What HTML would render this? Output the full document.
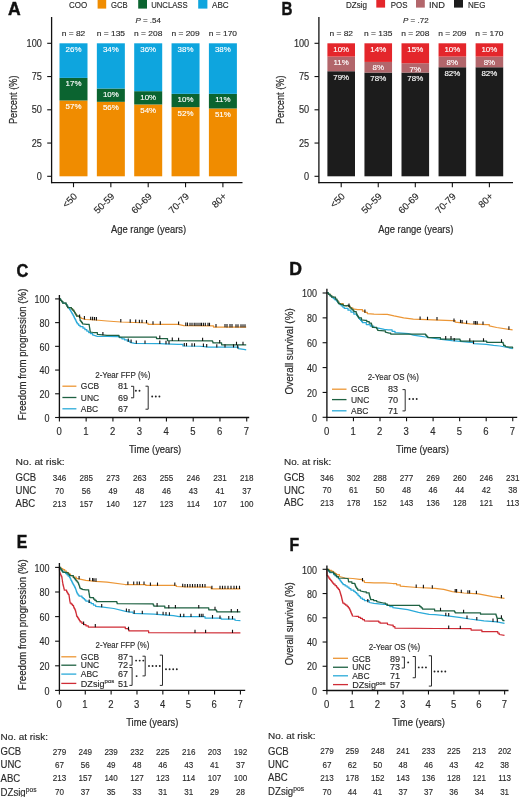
<!DOCTYPE html><html><head><meta charset="utf-8"><style>html,body{margin:0;padding:0;background:#fff;}svg{display:block;filter:blur(0.45px);}text{stroke:#2a2a2a;stroke-width:0.14px;}text[fill="#ffffff"]{stroke:#ffffff;}</style></head><body><svg width="520" height="797" viewBox="0 0 520 797" font-family='"Liberation Sans", sans-serif' fill="#2a2a2a">
<rect width="520" height="797" fill="#fff"/>
<rect x="59.50" y="100.49" width="28.00" height="75.81" fill="#F08C00"/>
<rect x="59.50" y="77.88" width="28.00" height="22.61" fill="#0B6430"/>
<rect x="59.50" y="43.30" width="28.00" height="34.58" fill="#0EA5DE"/>
<text x="73.50" y="108.89" font-size="7.7" text-anchor="middle" fill="#ffffff" textLength="15.87" lengthAdjust="spacingAndGlyphs">57%</text>
<text x="73.50" y="86.28" font-size="7.7" text-anchor="middle" fill="#ffffff" textLength="15.87" lengthAdjust="spacingAndGlyphs">17%</text>
<text x="73.50" y="51.70" font-size="7.7" text-anchor="middle" fill="#ffffff" textLength="15.87" lengthAdjust="spacingAndGlyphs">26%</text>
<text x="73.50" y="36.40" font-size="8.0" text-anchor="middle" textLength="23.59" lengthAdjust="spacingAndGlyphs">n = 82</text>
<line x1="73.50" y1="182.60" x2="73.50" y2="187.20" stroke="#111" stroke-width="1.1"/>
<text x="0" y="0" font-size="9.6" text-anchor="end" transform="translate(77.80,196.90) rotate(-45)">&lt;50</text>
<rect x="96.85" y="101.82" width="28.00" height="74.48" fill="#F08C00"/>
<rect x="96.85" y="88.52" width="28.00" height="13.30" fill="#0B6430"/>
<rect x="96.85" y="43.30" width="28.00" height="45.22" fill="#0EA5DE"/>
<text x="110.85" y="110.22" font-size="7.7" text-anchor="middle" fill="#ffffff" textLength="15.87" lengthAdjust="spacingAndGlyphs">56%</text>
<text x="110.85" y="96.92" font-size="7.7" text-anchor="middle" fill="#ffffff" textLength="15.87" lengthAdjust="spacingAndGlyphs">10%</text>
<text x="110.85" y="51.70" font-size="7.7" text-anchor="middle" fill="#ffffff" textLength="15.87" lengthAdjust="spacingAndGlyphs">34%</text>
<text x="110.85" y="36.40" font-size="8.0" text-anchor="middle" textLength="28.26" lengthAdjust="spacingAndGlyphs">n = 135</text>
<line x1="110.85" y1="182.60" x2="110.85" y2="187.20" stroke="#111" stroke-width="1.1"/>
<text x="0" y="0" font-size="9.6" text-anchor="end" transform="translate(115.15,196.90) rotate(-45)">50-59</text>
<rect x="134.20" y="104.48" width="28.00" height="71.82" fill="#F08C00"/>
<rect x="134.20" y="91.18" width="28.00" height="13.30" fill="#0B6430"/>
<rect x="134.20" y="43.30" width="28.00" height="47.88" fill="#0EA5DE"/>
<text x="148.20" y="112.88" font-size="7.7" text-anchor="middle" fill="#ffffff" textLength="15.87" lengthAdjust="spacingAndGlyphs">54%</text>
<text x="148.20" y="99.58" font-size="7.7" text-anchor="middle" fill="#ffffff" textLength="15.87" lengthAdjust="spacingAndGlyphs">10%</text>
<text x="148.20" y="51.70" font-size="7.7" text-anchor="middle" fill="#ffffff" textLength="15.87" lengthAdjust="spacingAndGlyphs">36%</text>
<text x="148.20" y="36.40" font-size="8.0" text-anchor="middle" textLength="28.26" lengthAdjust="spacingAndGlyphs">n = 208</text>
<line x1="148.20" y1="182.60" x2="148.20" y2="187.20" stroke="#111" stroke-width="1.1"/>
<text x="0" y="0" font-size="9.6" text-anchor="end" transform="translate(152.50,196.90) rotate(-45)">60-69</text>
<rect x="171.55" y="107.14" width="28.00" height="69.16" fill="#F08C00"/>
<rect x="171.55" y="93.84" width="28.00" height="13.30" fill="#0B6430"/>
<rect x="171.55" y="43.30" width="28.00" height="50.54" fill="#0EA5DE"/>
<text x="185.55" y="115.54" font-size="7.7" text-anchor="middle" fill="#ffffff" textLength="15.87" lengthAdjust="spacingAndGlyphs">52%</text>
<text x="185.55" y="102.24" font-size="7.7" text-anchor="middle" fill="#ffffff" textLength="15.87" lengthAdjust="spacingAndGlyphs">10%</text>
<text x="185.55" y="51.70" font-size="7.7" text-anchor="middle" fill="#ffffff" textLength="15.87" lengthAdjust="spacingAndGlyphs">38%</text>
<text x="185.55" y="36.40" font-size="8.0" text-anchor="middle" textLength="28.26" lengthAdjust="spacingAndGlyphs">n = 209</text>
<line x1="185.55" y1="182.60" x2="185.55" y2="187.20" stroke="#111" stroke-width="1.1"/>
<text x="0" y="0" font-size="9.6" text-anchor="end" transform="translate(189.85,196.90) rotate(-45)">70-79</text>
<rect x="208.90" y="108.47" width="28.00" height="67.83" fill="#F08C00"/>
<rect x="208.90" y="93.84" width="28.00" height="14.63" fill="#0B6430"/>
<rect x="208.90" y="43.30" width="28.00" height="50.54" fill="#0EA5DE"/>
<text x="222.90" y="116.87" font-size="7.7" text-anchor="middle" fill="#ffffff" textLength="15.87" lengthAdjust="spacingAndGlyphs">51%</text>
<text x="222.90" y="102.24" font-size="7.7" text-anchor="middle" fill="#ffffff" textLength="15.28" lengthAdjust="spacingAndGlyphs">11%</text>
<text x="222.90" y="51.70" font-size="7.7" text-anchor="middle" fill="#ffffff" textLength="15.87" lengthAdjust="spacingAndGlyphs">38%</text>
<text x="222.90" y="36.40" font-size="8.0" text-anchor="middle" textLength="28.26" lengthAdjust="spacingAndGlyphs">n = 170</text>
<line x1="222.90" y1="182.60" x2="222.90" y2="187.20" stroke="#111" stroke-width="1.1"/>
<text x="0" y="0" font-size="9.6" text-anchor="end" transform="translate(227.20,196.90) rotate(-45)">80+</text>
<line x1="51.60" y1="17.00" x2="51.60" y2="183.20" stroke="#111" stroke-width="1.3"/>
<line x1="51.00" y1="182.60" x2="242.50" y2="182.60" stroke="#111" stroke-width="1.3"/>
<line x1="47.20" y1="176.30" x2="51.60" y2="176.30" stroke="#111" stroke-width="1.1"/>
<text x="41.90" y="179.90" font-size="10.2" text-anchor="end" textLength="5.10" lengthAdjust="spacingAndGlyphs">0</text>
<line x1="47.20" y1="143.05" x2="51.60" y2="143.05" stroke="#111" stroke-width="1.1"/>
<text x="41.90" y="146.65" font-size="10.2" text-anchor="end" textLength="10.21" lengthAdjust="spacingAndGlyphs">25</text>
<line x1="47.20" y1="109.80" x2="51.60" y2="109.80" stroke="#111" stroke-width="1.1"/>
<text x="41.90" y="113.40" font-size="10.2" text-anchor="end" textLength="10.21" lengthAdjust="spacingAndGlyphs">50</text>
<line x1="47.20" y1="76.55" x2="51.60" y2="76.55" stroke="#111" stroke-width="1.1"/>
<text x="41.90" y="80.15" font-size="10.2" text-anchor="end" textLength="10.21" lengthAdjust="spacingAndGlyphs">75</text>
<line x1="47.20" y1="43.30" x2="51.60" y2="43.30" stroke="#111" stroke-width="1.1"/>
<text x="41.90" y="46.90" font-size="10.2" text-anchor="end" textLength="15.31" lengthAdjust="spacingAndGlyphs">100</text>
<text x="0" y="0" font-size="11.2" text-anchor="middle" transform="translate(17.40,99.80) rotate(-90)" textLength="48.5" lengthAdjust="spacingAndGlyphs" style="stroke-width:0.22px">Percent (%)</text>
<text x="148.60" y="233.20" font-size="11.4" text-anchor="middle" textLength="75.00" lengthAdjust="spacingAndGlyphs" style="stroke-width:0.22px">Age range (years)</text>
<rect x="327.40" y="71.23" width="27.60" height="105.07" fill="#1C1C1C"/>
<rect x="327.40" y="56.60" width="27.60" height="14.63" fill="#B2666B"/>
<rect x="327.40" y="43.30" width="27.60" height="13.30" fill="#E4262B"/>
<text x="341.20" y="79.63" font-size="7.7" text-anchor="middle" fill="#ffffff" textLength="15.87" lengthAdjust="spacingAndGlyphs">79%</text>
<text x="341.20" y="65.00" font-size="7.7" text-anchor="middle" fill="#ffffff" textLength="15.28" lengthAdjust="spacingAndGlyphs">11%</text>
<text x="341.20" y="51.70" font-size="7.7" text-anchor="middle" fill="#ffffff" textLength="15.87" lengthAdjust="spacingAndGlyphs">10%</text>
<text x="341.20" y="36.40" font-size="8.0" text-anchor="middle" textLength="23.59" lengthAdjust="spacingAndGlyphs">n = 82</text>
<line x1="341.20" y1="182.60" x2="341.20" y2="187.20" stroke="#111" stroke-width="1.1"/>
<text x="0" y="0" font-size="9.6" text-anchor="end" transform="translate(345.50,196.90) rotate(-45)">&lt;50</text>
<rect x="364.45" y="72.56" width="27.60" height="103.74" fill="#1C1C1C"/>
<rect x="364.45" y="61.92" width="27.60" height="10.64" fill="#B2666B"/>
<rect x="364.45" y="43.30" width="27.60" height="18.62" fill="#E4262B"/>
<text x="378.25" y="80.96" font-size="7.7" text-anchor="middle" fill="#ffffff" textLength="15.87" lengthAdjust="spacingAndGlyphs">78%</text>
<text x="378.25" y="70.32" font-size="7.7" text-anchor="middle" fill="#ffffff" textLength="11.46" lengthAdjust="spacingAndGlyphs">8%</text>
<text x="378.25" y="51.70" font-size="7.7" text-anchor="middle" fill="#ffffff" textLength="15.87" lengthAdjust="spacingAndGlyphs">14%</text>
<text x="378.25" y="36.40" font-size="8.0" text-anchor="middle" textLength="28.26" lengthAdjust="spacingAndGlyphs">n = 135</text>
<line x1="378.25" y1="182.60" x2="378.25" y2="187.20" stroke="#111" stroke-width="1.1"/>
<text x="0" y="0" font-size="9.6" text-anchor="end" transform="translate(382.55,196.90) rotate(-45)">50-59</text>
<rect x="401.50" y="72.56" width="27.60" height="103.74" fill="#1C1C1C"/>
<rect x="401.50" y="63.25" width="27.60" height="9.31" fill="#B2666B"/>
<rect x="401.50" y="43.30" width="27.60" height="19.95" fill="#E4262B"/>
<text x="415.30" y="80.96" font-size="7.7" text-anchor="middle" fill="#ffffff" textLength="15.87" lengthAdjust="spacingAndGlyphs">78%</text>
<text x="415.30" y="71.65" font-size="7.7" text-anchor="middle" fill="#ffffff" textLength="11.46" lengthAdjust="spacingAndGlyphs">7%</text>
<text x="415.30" y="51.70" font-size="7.7" text-anchor="middle" fill="#ffffff" textLength="15.87" lengthAdjust="spacingAndGlyphs">15%</text>
<text x="415.30" y="36.40" font-size="8.0" text-anchor="middle" textLength="28.26" lengthAdjust="spacingAndGlyphs">n = 208</text>
<line x1="415.30" y1="182.60" x2="415.30" y2="187.20" stroke="#111" stroke-width="1.1"/>
<text x="0" y="0" font-size="9.6" text-anchor="end" transform="translate(419.60,196.90) rotate(-45)">60-69</text>
<rect x="438.55" y="67.24" width="27.60" height="109.06" fill="#1C1C1C"/>
<rect x="438.55" y="56.60" width="27.60" height="10.64" fill="#B2666B"/>
<rect x="438.55" y="43.30" width="27.60" height="13.30" fill="#E4262B"/>
<text x="452.35" y="75.64" font-size="7.7" text-anchor="middle" fill="#ffffff" textLength="15.87" lengthAdjust="spacingAndGlyphs">82%</text>
<text x="452.35" y="65.00" font-size="7.7" text-anchor="middle" fill="#ffffff" textLength="11.46" lengthAdjust="spacingAndGlyphs">8%</text>
<text x="452.35" y="51.70" font-size="7.7" text-anchor="middle" fill="#ffffff" textLength="15.87" lengthAdjust="spacingAndGlyphs">10%</text>
<text x="452.35" y="36.40" font-size="8.0" text-anchor="middle" textLength="28.26" lengthAdjust="spacingAndGlyphs">n = 209</text>
<line x1="452.35" y1="182.60" x2="452.35" y2="187.20" stroke="#111" stroke-width="1.1"/>
<text x="0" y="0" font-size="9.6" text-anchor="end" transform="translate(456.65,196.90) rotate(-45)">70-79</text>
<rect x="475.60" y="67.24" width="27.60" height="109.06" fill="#1C1C1C"/>
<rect x="475.60" y="56.60" width="27.60" height="10.64" fill="#B2666B"/>
<rect x="475.60" y="43.30" width="27.60" height="13.30" fill="#E4262B"/>
<text x="489.40" y="75.64" font-size="7.7" text-anchor="middle" fill="#ffffff" textLength="15.87" lengthAdjust="spacingAndGlyphs">82%</text>
<text x="489.40" y="65.00" font-size="7.7" text-anchor="middle" fill="#ffffff" textLength="11.46" lengthAdjust="spacingAndGlyphs">8%</text>
<text x="489.40" y="51.70" font-size="7.7" text-anchor="middle" fill="#ffffff" textLength="15.87" lengthAdjust="spacingAndGlyphs">10%</text>
<text x="489.40" y="36.40" font-size="8.0" text-anchor="middle" textLength="28.26" lengthAdjust="spacingAndGlyphs">n = 170</text>
<line x1="489.40" y1="182.60" x2="489.40" y2="187.20" stroke="#111" stroke-width="1.1"/>
<text x="0" y="0" font-size="9.6" text-anchor="end" transform="translate(493.70,196.90) rotate(-45)">80+</text>
<line x1="318.90" y1="17.00" x2="318.90" y2="183.20" stroke="#111" stroke-width="1.3"/>
<line x1="318.30" y1="182.60" x2="513.00" y2="182.60" stroke="#111" stroke-width="1.3"/>
<line x1="314.50" y1="176.30" x2="318.90" y2="176.30" stroke="#111" stroke-width="1.1"/>
<text x="309.20" y="179.90" font-size="10.2" text-anchor="end" textLength="5.10" lengthAdjust="spacingAndGlyphs">0</text>
<line x1="314.50" y1="143.05" x2="318.90" y2="143.05" stroke="#111" stroke-width="1.1"/>
<text x="309.20" y="146.65" font-size="10.2" text-anchor="end" textLength="10.21" lengthAdjust="spacingAndGlyphs">25</text>
<line x1="314.50" y1="109.80" x2="318.90" y2="109.80" stroke="#111" stroke-width="1.1"/>
<text x="309.20" y="113.40" font-size="10.2" text-anchor="end" textLength="10.21" lengthAdjust="spacingAndGlyphs">50</text>
<line x1="314.50" y1="76.55" x2="318.90" y2="76.55" stroke="#111" stroke-width="1.1"/>
<text x="309.20" y="80.15" font-size="10.2" text-anchor="end" textLength="10.21" lengthAdjust="spacingAndGlyphs">75</text>
<line x1="314.50" y1="43.30" x2="318.90" y2="43.30" stroke="#111" stroke-width="1.1"/>
<text x="309.20" y="46.90" font-size="10.2" text-anchor="end" textLength="15.31" lengthAdjust="spacingAndGlyphs">100</text>
<text x="0" y="0" font-size="11.2" text-anchor="middle" transform="translate(284.00,99.80) rotate(-90)" textLength="48.5" lengthAdjust="spacingAndGlyphs" style="stroke-width:0.22px">Percent (%)</text>
<text x="415.80" y="233.20" font-size="11.4" text-anchor="middle" textLength="75.00" lengthAdjust="spacingAndGlyphs" style="stroke-width:0.22px">Age range (years)</text>
<text x="0" y="0" font-size="17.6" fill="#111" font-weight="bold" style="stroke:#111;stroke-width:0.45px" transform="translate(8,15) scale(1.0,1)">A</text>
<text x="0" y="0" font-size="17.6" fill="#111" font-weight="bold" style="stroke:#111;stroke-width:0.45px" transform="translate(281.4,14.9) scale(0.86,1)">B</text>
<text x="0" y="0" font-size="17.6" fill="#111" font-weight="bold" style="stroke:#111;stroke-width:0.45px" transform="translate(16.6,276.6) scale(0.93,1)">C</text>
<text x="0" y="0" font-size="17.6" fill="#111" font-weight="bold" style="stroke:#111;stroke-width:0.45px" transform="translate(289.2,275.0) scale(1.0,1)">D</text>
<text x="0" y="0" font-size="17.6" fill="#111" font-weight="bold" style="stroke:#111;stroke-width:0.45px" transform="translate(16.8,547.9) scale(0.9,1)">E</text>
<text x="0" y="0" font-size="17.6" fill="#111" font-weight="bold" style="stroke:#111;stroke-width:0.45px" transform="translate(289.6,551.3) scale(0.9,1)">F</text>
<text x="69.00" y="8.20" font-size="8.6" textLength="18.20" lengthAdjust="spacingAndGlyphs">COO</text>
<rect x="97.60" y="0.00" width="8.60" height="8.60" fill="#F08C00"/>
<text x="111.00" y="8.20" font-size="8.6" textLength="16.60" lengthAdjust="spacingAndGlyphs">GCB</text>
<rect x="138.20" y="0.00" width="8.80" height="8.60" fill="#0B6430"/>
<text x="151.20" y="8.20" font-size="8.6" textLength="36.40" lengthAdjust="spacingAndGlyphs">UNCLASS</text>
<rect x="198.20" y="0.00" width="9.20" height="8.60" fill="#0EA5DE"/>
<text x="212.00" y="8.20" font-size="8.6" textLength="16.60" lengthAdjust="spacingAndGlyphs">ABC</text>
<text x="135.4" y="22.7" font-size="8"><tspan font-style="italic">P</tspan> = .54</text>
<text x="346.00" y="7.60" font-size="8.6" textLength="21.00" lengthAdjust="spacingAndGlyphs">DZsig</text>
<rect x="376.30" y="0.00" width="8.80" height="7.60" fill="#E4262B"/>
<text x="390.80" y="7.60" font-size="8.6" textLength="16.70" lengthAdjust="spacingAndGlyphs">POS</text>
<rect x="416.00" y="0.00" width="8.80" height="7.60" fill="#B2666B"/>
<text x="429.00" y="7.60" font-size="8.6" textLength="16.00" lengthAdjust="spacingAndGlyphs">IND</text>
<rect x="454.00" y="0.00" width="9.00" height="7.60" fill="#1C1C1C"/>
<text x="468.00" y="7.60" font-size="8.6" textLength="17.40" lengthAdjust="spacingAndGlyphs">NEG</text>
<text x="403" y="23" font-size="8"><tspan font-style="italic">P</tspan> = .72</text>
<path d="M59.40,298.80 L60.53,298.80 L60.53,300.27 L61.67,300.27 L61.67,301.73 L62.80,301.73 L62.80,303.20 L66.10,303.20 L66.10,304.60 L66.85,304.60 L66.85,306.05 L67.60,306.05 L67.60,307.50 L71.40,307.50 L71.40,308.90 L72.60,308.90 L72.60,310.10 L73.80,310.10 L73.80,311.30 L74.53,311.30 L74.53,312.52 L75.25,312.52 L75.25,313.75 L75.97,313.75 L75.97,314.98 L76.70,314.98 L76.70,316.20 L79.40,316.20 L79.40,317.40 L81.00,317.40 L81.00,318.10 L85.80,319.50 L95.50,320.00 L107.00,321.00 L120.80,322.00 L147.30,323.00 L148.00,323.00 L148.00,324.30 L178.10,324.40 L183.80,325.60 L213.50,325.80 L213.50,327.00 L246.20,327.20" fill="none" stroke="#EC9635" stroke-width="1.25" stroke-linejoin="round"/>
<path d="M59.40,298.80 L60.53,298.80 L60.53,300.27 L61.67,300.27 L61.67,301.73 L62.80,301.73 L62.80,303.20 L66.10,303.20 L66.10,304.60 L66.95,304.60 L66.95,305.80 L67.80,305.80 L67.80,307.00 L68.65,307.00 L68.65,308.20 L69.50,308.20 L69.50,309.40 L70.22,309.40 L70.22,310.60 L70.95,310.60 L70.95,311.80 L71.68,311.80 L71.68,313.00 L72.40,313.00 L72.40,314.20 L73.09,314.20 L73.09,315.57 L73.77,315.57 L73.77,316.94 L74.46,316.94 L74.46,318.31 L75.14,318.31 L75.14,319.69 L75.83,319.69 L75.83,321.06 L76.51,321.06 L76.51,322.43 L77.20,322.43 L77.20,323.80 L78.65,323.80 L78.65,325.25 L80.10,325.25 L80.10,326.70 L83.00,326.70 L83.00,328.20 L84.90,328.20 L84.90,329.63 L86.80,329.63 L86.80,331.07 L88.70,331.07 L88.70,332.50 L90.65,332.50 L90.65,333.70 L92.60,333.70 L92.60,334.90 L97.40,336.30 L107.00,336.50 L117.30,336.50 L119.60,336.50 L119.60,337.65 L121.90,337.65 L121.90,338.80 L124.60,338.80 L124.60,339.97 L127.30,339.97 L127.30,341.13 L130.00,341.13 L130.00,342.30 L134.60,343.40 L160.00,343.60 L164.60,343.80 L178.00,344.30 L182.90,344.30 L182.90,346.00 L200.00,346.25 L208.70,347.20 L236.50,347.20 L238.50,347.20 L238.50,348.70 L245.20,349.60 L246.20,349.80" fill="none" stroke="#2AAAD9" stroke-width="1.25" stroke-linejoin="round"/>
<path d="M59.40,298.80 L60.53,298.80 L60.53,300.27 L61.67,300.27 L61.67,301.73 L62.80,301.73 L62.80,303.20 L66.10,303.20 L66.10,304.60 L66.85,304.60 L66.85,306.05 L67.60,306.05 L67.60,307.50 L71.40,307.50 L71.40,308.90 L72.60,308.90 L72.60,310.10 L73.80,310.10 L73.80,311.30 L74.53,311.30 L74.53,312.52 L75.25,312.52 L75.25,313.75 L75.97,313.75 L75.97,314.98 L76.70,314.98 L76.70,316.20 L79.60,316.20 L79.60,317.60 L79.85,317.60 L79.85,319.05 L80.10,319.05 L80.10,320.50 L80.90,320.50 L80.90,321.60 L81.70,321.60 L81.70,322.70 L82.50,322.70 L82.50,323.80 L86.80,324.30 L89.20,324.30 L89.20,325.80 L89.40,325.80 L89.40,327.04 L89.60,327.04 L89.60,328.28 L89.80,328.28 L89.80,329.52 L90.00,329.52 L90.00,330.76 L90.20,330.76 L90.20,332.00 L93.50,332.50 L97.40,332.50 L97.40,334.40 L107.00,335.30 L117.30,335.30 L119.00,335.30 L119.00,337.10 L156.50,337.10 L156.50,338.60 L167.50,338.60 L167.50,340.60 L212.00,340.80 L212.50,340.80 L212.50,341.85 L213.00,341.85 L213.00,342.90 L219.70,342.90 L221.60,342.90 L221.60,344.80 L246.20,344.80" fill="none" stroke="#1E6142" stroke-width="1.25" stroke-linejoin="round"/>
<path d="M79.60,314.49V317.79M84.40,316.09V319.39M90.70,316.75V320.05M92.60,316.85V320.15M94.50,316.95V320.25M96.40,317.08V320.38M120.80,319.00V322.30M130.20,319.35V322.65M135.70,319.56V322.86M139.40,319.70V323.00M142.00,319.80V323.10M146.50,319.97V323.27M153.00,321.32V324.62M160.30,321.34V324.64M178.60,321.51V324.81M185.80,322.61V325.91M187.50,322.62V325.92M190.00,322.64V325.94M192.00,322.66V325.96M194.20,322.67V325.97M196.00,322.68V325.98M198.00,322.70V326.00M200.00,322.71V326.01M201.50,322.72V326.02M203.40,322.73V326.03M205.30,322.74V326.04M208.00,322.76V326.06M209.50,322.77V326.07M216.00,324.02V327.32M225.00,324.07V327.37M227.00,324.08V327.38M230.00,324.10V327.40M232.00,324.11V327.41M236.00,324.14V327.44M238.00,324.15V327.45M241.00,324.17V327.47M243.00,324.18V327.48M245.00,324.19V327.49" stroke="#111" stroke-width="1.1" fill="none"/>
<path d="M128.30,338.57V341.87M131.10,339.56V342.86M136.30,340.41V343.71M145.00,340.48V343.78M159.80,340.60V343.90M166.00,340.85V344.15M169.00,340.96V344.26M184.30,343.02V346.32M186.50,343.05V346.35M192.00,343.13V346.43M194.50,343.17V346.47M203.40,343.62V346.92M206.70,343.98V347.28M216.80,344.20V347.50M225.00,344.20V347.50M233.50,344.20V347.50M237.70,345.10V348.40" stroke="#111" stroke-width="1.1" fill="none"/>
<path d="M102.90,331.92V335.22M159.80,335.60V338.90M172.30,337.62V340.92M178.60,337.65V340.95M202.60,337.76V341.06M219.70,339.90V343.20M236.50,341.80V345.10M243.00,341.80V345.10" stroke="#111" stroke-width="1.1" fill="none"/>
<line x1="59.40" y1="295.00" x2="59.40" y2="418.10" stroke="#111" stroke-width="1.35"/>
<line x1="58.80" y1="417.50" x2="249.20" y2="417.50" stroke="#111" stroke-width="1.35"/>
<line x1="55.10" y1="417.50" x2="59.40" y2="417.50" stroke="#111" stroke-width="1.1"/>
<text x="49.40" y="421.70" font-size="10.2" text-anchor="end" textLength="4.99" lengthAdjust="spacingAndGlyphs">0</text>
<line x1="55.10" y1="393.78" x2="59.40" y2="393.78" stroke="#111" stroke-width="1.1"/>
<text x="49.40" y="397.98" font-size="10.2" text-anchor="end" textLength="9.98" lengthAdjust="spacingAndGlyphs">20</text>
<line x1="55.10" y1="370.06" x2="59.40" y2="370.06" stroke="#111" stroke-width="1.1"/>
<text x="49.40" y="374.26" font-size="10.2" text-anchor="end" textLength="9.98" lengthAdjust="spacingAndGlyphs">40</text>
<line x1="55.10" y1="346.34" x2="59.40" y2="346.34" stroke="#111" stroke-width="1.1"/>
<text x="49.40" y="350.54" font-size="10.2" text-anchor="end" textLength="9.98" lengthAdjust="spacingAndGlyphs">60</text>
<line x1="55.10" y1="322.62" x2="59.40" y2="322.62" stroke="#111" stroke-width="1.1"/>
<text x="49.40" y="326.82" font-size="10.2" text-anchor="end" textLength="9.98" lengthAdjust="spacingAndGlyphs">80</text>
<line x1="55.10" y1="298.90" x2="59.40" y2="298.90" stroke="#111" stroke-width="1.1"/>
<text x="49.40" y="303.10" font-size="10.2" text-anchor="end" textLength="14.97" lengthAdjust="spacingAndGlyphs">100</text>
<line x1="59.40" y1="417.50" x2="59.40" y2="421.50" stroke="#111" stroke-width="1.1"/>
<text x="59.10" y="434.70" font-size="10.0" text-anchor="middle" textLength="5.28" lengthAdjust="spacingAndGlyphs">0</text>
<line x1="86.16" y1="417.50" x2="86.16" y2="421.50" stroke="#111" stroke-width="1.1"/>
<text x="85.86" y="434.70" font-size="10.0" text-anchor="middle" textLength="5.28" lengthAdjust="spacingAndGlyphs">1</text>
<line x1="112.92" y1="417.50" x2="112.92" y2="421.50" stroke="#111" stroke-width="1.1"/>
<text x="112.62" y="434.70" font-size="10.0" text-anchor="middle" textLength="5.28" lengthAdjust="spacingAndGlyphs">2</text>
<line x1="139.68" y1="417.50" x2="139.68" y2="421.50" stroke="#111" stroke-width="1.1"/>
<text x="139.38" y="434.70" font-size="10.0" text-anchor="middle" textLength="5.28" lengthAdjust="spacingAndGlyphs">3</text>
<line x1="166.44" y1="417.50" x2="166.44" y2="421.50" stroke="#111" stroke-width="1.1"/>
<text x="166.14" y="434.70" font-size="10.0" text-anchor="middle" textLength="5.28" lengthAdjust="spacingAndGlyphs">4</text>
<line x1="193.20" y1="417.50" x2="193.20" y2="421.50" stroke="#111" stroke-width="1.1"/>
<text x="192.90" y="434.70" font-size="10.0" text-anchor="middle" textLength="5.28" lengthAdjust="spacingAndGlyphs">5</text>
<line x1="219.96" y1="417.50" x2="219.96" y2="421.50" stroke="#111" stroke-width="1.1"/>
<text x="219.66" y="434.70" font-size="10.0" text-anchor="middle" textLength="5.28" lengthAdjust="spacingAndGlyphs">6</text>
<line x1="246.72" y1="417.50" x2="246.72" y2="421.50" stroke="#111" stroke-width="1.1"/>
<text x="246.42" y="434.70" font-size="10.0" text-anchor="middle" textLength="5.28" lengthAdjust="spacingAndGlyphs">7</text>
<text x="0" y="0" font-size="11.6" text-anchor="middle" transform="translate(26.20,354.40) rotate(-90)" textLength="131.5" lengthAdjust="spacingAndGlyphs" style="stroke-width:0.22px">Freedom from progression (%)</text>
<text x="155.10" y="452.60" font-size="11.6" text-anchor="middle" textLength="52.20" lengthAdjust="spacingAndGlyphs" style="stroke-width:0.22px">Time (years)</text>
<text x="95.20" y="377.60" font-size="8.6" textLength="55.20" lengthAdjust="spacingAndGlyphs">2-Year FFP (%)</text>
<line x1="62.40" y1="386.20" x2="76.40" y2="386.20" stroke="#EC9635" stroke-width="1.3"/>
<text x="80.80" y="389.40" font-size="9.1" textLength="18.34" lengthAdjust="spacingAndGlyphs">GCB</text>
<text x="118.00" y="389.40" font-size="9.1">81</text>
<line x1="62.40" y1="397.50" x2="76.40" y2="397.50" stroke="#1E6142" stroke-width="1.3"/>
<text x="80.80" y="400.70" font-size="9.1" textLength="18.34" lengthAdjust="spacingAndGlyphs">UNC</text>
<text x="118.00" y="400.70" font-size="9.1">69</text>
<line x1="62.40" y1="408.80" x2="76.40" y2="408.80" stroke="#2AAAD9" stroke-width="1.3"/>
<text x="80.80" y="412.00" font-size="9.1" textLength="17.40" lengthAdjust="spacingAndGlyphs">ABC</text>
<text x="118.00" y="412.00" font-size="9.1">67</text>
<path d="M131.00,386.30H133.70V397.80H131.00" fill="none" stroke="#222" stroke-width="0.95"/>
<path d="M145.50,386.20H148.20V409.20H145.50" fill="none" stroke="#222" stroke-width="0.95"/>
<circle cx="135.90" cy="390.80" r="0.95" fill="#222"/>
<circle cx="139.50" cy="390.80" r="0.95" fill="#222"/>
<circle cx="152.20" cy="396.50" r="0.95" fill="#222"/>
<circle cx="155.80" cy="396.50" r="0.95" fill="#222"/>
<circle cx="159.40" cy="396.50" r="0.95" fill="#222"/>
<text x="15.50" y="465.00" font-size="9.8" textLength="49.20" lengthAdjust="spacingAndGlyphs">No. at risk:</text>
<text x="15.50" y="481.20" font-size="10.4" textLength="20.73" lengthAdjust="spacingAndGlyphs">GCB</text>
<text x="59.40" y="480.80" font-size="9.5" text-anchor="middle" textLength="13.47" lengthAdjust="spacingAndGlyphs">346</text>
<text x="86.16" y="480.80" font-size="9.5" text-anchor="middle" textLength="13.47" lengthAdjust="spacingAndGlyphs">285</text>
<text x="112.92" y="480.80" font-size="9.5" text-anchor="middle" textLength="13.47" lengthAdjust="spacingAndGlyphs">273</text>
<text x="139.68" y="480.80" font-size="9.5" text-anchor="middle" textLength="13.47" lengthAdjust="spacingAndGlyphs">263</text>
<text x="166.44" y="480.80" font-size="9.5" text-anchor="middle" textLength="13.47" lengthAdjust="spacingAndGlyphs">255</text>
<text x="193.20" y="480.80" font-size="9.5" text-anchor="middle" textLength="13.47" lengthAdjust="spacingAndGlyphs">246</text>
<text x="219.96" y="480.80" font-size="9.5" text-anchor="middle" textLength="13.47" lengthAdjust="spacingAndGlyphs">231</text>
<text x="246.72" y="480.80" font-size="9.5" text-anchor="middle" textLength="13.47" lengthAdjust="spacingAndGlyphs">218</text>
<text x="15.50" y="494.00" font-size="10.4" textLength="20.73" lengthAdjust="spacingAndGlyphs">UNC</text>
<text x="59.40" y="493.60" font-size="9.5" text-anchor="middle" textLength="8.98" lengthAdjust="spacingAndGlyphs">70</text>
<text x="86.16" y="493.60" font-size="9.5" text-anchor="middle" textLength="8.98" lengthAdjust="spacingAndGlyphs">56</text>
<text x="112.92" y="493.60" font-size="9.5" text-anchor="middle" textLength="8.98" lengthAdjust="spacingAndGlyphs">49</text>
<text x="139.68" y="493.60" font-size="9.5" text-anchor="middle" textLength="8.98" lengthAdjust="spacingAndGlyphs">48</text>
<text x="166.44" y="493.60" font-size="9.5" text-anchor="middle" textLength="8.98" lengthAdjust="spacingAndGlyphs">46</text>
<text x="193.20" y="493.60" font-size="9.5" text-anchor="middle" textLength="8.98" lengthAdjust="spacingAndGlyphs">43</text>
<text x="219.96" y="493.60" font-size="9.5" text-anchor="middle" textLength="8.98" lengthAdjust="spacingAndGlyphs">41</text>
<text x="246.72" y="493.60" font-size="9.5" text-anchor="middle" textLength="8.98" lengthAdjust="spacingAndGlyphs">37</text>
<text x="15.50" y="506.90" font-size="10.4" textLength="19.67" lengthAdjust="spacingAndGlyphs">ABC</text>
<text x="59.40" y="506.50" font-size="9.5" text-anchor="middle" textLength="13.47" lengthAdjust="spacingAndGlyphs">213</text>
<text x="86.16" y="506.50" font-size="9.5" text-anchor="middle" textLength="13.47" lengthAdjust="spacingAndGlyphs">157</text>
<text x="112.92" y="506.50" font-size="9.5" text-anchor="middle" textLength="13.47" lengthAdjust="spacingAndGlyphs">140</text>
<text x="139.68" y="506.50" font-size="9.5" text-anchor="middle" textLength="13.47" lengthAdjust="spacingAndGlyphs">127</text>
<text x="166.44" y="506.50" font-size="9.5" text-anchor="middle" textLength="13.47" lengthAdjust="spacingAndGlyphs">123</text>
<text x="193.20" y="506.50" font-size="9.5" text-anchor="middle" textLength="12.87" lengthAdjust="spacingAndGlyphs">114</text>
<text x="219.96" y="506.50" font-size="9.5" text-anchor="middle" textLength="13.47" lengthAdjust="spacingAndGlyphs">107</text>
<text x="246.72" y="506.50" font-size="9.5" text-anchor="middle" textLength="13.47" lengthAdjust="spacingAndGlyphs">100</text>
<path d="M326.90,292.90 L328.50,292.90 L328.50,294.17 L330.10,294.17 L330.10,295.43 L331.70,295.43 L331.70,296.70 L333.30,296.70 L333.30,298.00 L334.90,298.00 L334.90,299.30 L336.50,299.30 L336.50,300.60 L337.95,300.60 L337.95,302.05 L339.40,302.05 L339.40,303.50 L343.20,303.50 L343.20,305.40 L347.10,305.90 L350.00,305.90 L350.00,307.80 L352.80,307.80 L352.80,308.80 L357.70,309.70 L362.50,309.70 L362.50,311.20 L364.90,311.20 L364.90,312.40 L367.30,312.40 L367.30,313.60 L374.00,314.20 L384.80,314.40 L387.30,314.40 L394.00,315.90 L403.70,317.80 L413.30,319.20 L420.00,319.40 L452.00,320.60 L455.20,320.60 L455.20,322.20 L470.00,323.80 L486.20,324.60 L489.30,324.60 L489.30,325.90 L496.70,327.50 L512.60,329.90" fill="none" stroke="#EC9635" stroke-width="1.25" stroke-linejoin="round"/>
<path d="M326.90,292.90 L328.50,292.90 L328.50,294.33 L330.10,294.33 L330.10,295.77 L331.70,295.77 L331.70,297.20 L333.30,297.20 L333.30,298.50 L334.90,298.50 L334.90,299.80 L336.50,299.80 L336.50,301.10 L337.70,301.10 L337.70,302.30 L338.90,302.30 L338.90,303.50 L340.10,303.50 L340.10,304.70 L341.30,304.70 L341.30,305.90 L342.75,305.90 L342.75,307.10 L344.20,307.10 L344.20,308.30 L348.00,308.30 L348.00,310.20 L350.90,310.20 L350.90,312.10 L353.80,312.10 L353.80,314.00 L356.70,314.00 L356.70,315.50 L357.67,315.50 L357.67,316.77 L358.63,316.77 L358.63,318.03 L359.60,318.03 L359.60,319.30 L360.57,319.30 L360.57,320.43 L361.53,320.43 L361.53,321.57 L362.50,321.57 L362.50,322.70 L366.30,322.70 L366.30,324.60 L370.20,324.60 L370.20,326.00 L373.80,326.00 L373.80,327.40 L379.60,328.40 L384.40,329.30 L388.30,329.80 L392.10,329.80 L392.10,331.30 L395.00,331.30 L395.00,332.70 L408.50,333.70 L413.30,335.10 L420.00,336.10 L425.60,337.00 L439.30,339.10 L452.00,340.70 L462.60,341.70 L470.00,342.30 L473.50,342.30 L473.50,343.70 L486.20,344.40 L493.60,345.40 L499.90,346.00 L512.60,348.60" fill="none" stroke="#2AAAD9" stroke-width="1.25" stroke-linejoin="round"/>
<path d="M326.90,292.90 L328.50,292.90 L328.50,294.33 L330.10,294.33 L330.10,295.77 L331.70,295.77 L331.70,297.20 L335.50,297.20 L335.50,299.10 L337.00,299.10 L337.00,300.60 L337.70,300.60 L337.70,302.05 L338.40,302.05 L338.40,303.50 L340.30,303.50 L340.30,304.40 L343.20,304.40 L343.20,305.40 L346.10,305.90 L348.00,305.40 L349.00,305.40 L349.00,306.60 L350.00,306.60 L350.00,307.80 L351.40,307.80 L351.40,309.00 L352.80,309.00 L352.80,310.20 L353.80,310.20 L353.80,311.60 L356.20,311.60 L356.20,313.10 L356.70,313.10 L356.70,314.30 L357.20,314.30 L357.20,315.50 L357.90,315.50 L357.90,316.70 L358.60,316.70 L358.60,317.90 L361.50,317.90 L361.50,319.80 L365.30,320.30 L366.80,320.30 L366.80,321.70 L369.20,321.70 L369.20,323.20 L371.40,323.20 L371.40,324.00 L371.73,324.00 L371.73,325.13 L372.07,325.13 L372.07,326.27 L372.40,326.27 L372.40,327.40 L376.70,327.40 L376.70,328.80 L377.70,328.80 L377.70,330.30 L384.40,330.80 L385.40,330.80 L385.40,332.20 L389.20,333.20 L390.70,333.20 L390.70,334.00 L424.50,334.00 L425.57,334.00 L425.57,335.17 L426.63,335.17 L426.63,336.33 L427.70,336.33 L427.70,337.50 L439.30,337.50 L440.40,337.50 L440.40,339.10 L459.40,339.10 L459.95,339.10 L459.95,340.15 L460.50,340.15 L460.50,341.20 L485.10,341.20 L486.70,341.20 L486.70,342.30 L502.60,342.30 L503.10,342.30 L503.10,343.85 L503.60,343.85 L503.60,345.40 L505.20,345.40 L505.20,346.50 L509.40,347.20 L512.60,347.20 L512.60,348.40" fill="none" stroke="#1E6142" stroke-width="1.25" stroke-linejoin="round"/>
<path d="M364.90,309.40V312.70M420.10,316.40V319.70M427.50,316.68V319.98M437.00,317.04V320.34M454.00,318.60V321.90M460.50,319.77V323.07M462.10,319.95V323.25M466.60,320.43V323.73M474.00,321.00V324.30M475.60,321.08V324.38M477.20,321.16V324.46M483.00,321.44V324.74M508.90,326.34V329.64" stroke="#111" stroke-width="1.1" fill="none"/>
<path d="M454.20,337.91V341.21M473.50,340.70V344.00" stroke="#111" stroke-width="1.1" fill="none"/>
<path d="M349.00,303.60V306.90M445.70,336.10V339.40M451.00,336.10V339.40M469.80,338.20V341.50M483.50,338.20V341.50M501.50,339.30V342.60" stroke="#111" stroke-width="1.1" fill="none"/>
<line x1="326.90" y1="288.70" x2="326.90" y2="417.90" stroke="#111" stroke-width="1.35"/>
<line x1="326.30" y1="417.30" x2="517.20" y2="417.30" stroke="#111" stroke-width="1.35"/>
<line x1="322.60" y1="417.30" x2="326.90" y2="417.30" stroke="#111" stroke-width="1.1"/>
<text x="316.90" y="421.50" font-size="10.2" text-anchor="end" textLength="4.99" lengthAdjust="spacingAndGlyphs">0</text>
<line x1="322.60" y1="392.44" x2="326.90" y2="392.44" stroke="#111" stroke-width="1.1"/>
<text x="316.90" y="396.64" font-size="10.2" text-anchor="end" textLength="9.98" lengthAdjust="spacingAndGlyphs">20</text>
<line x1="322.60" y1="367.58" x2="326.90" y2="367.58" stroke="#111" stroke-width="1.1"/>
<text x="316.90" y="371.78" font-size="10.2" text-anchor="end" textLength="9.98" lengthAdjust="spacingAndGlyphs">40</text>
<line x1="322.60" y1="342.72" x2="326.90" y2="342.72" stroke="#111" stroke-width="1.1"/>
<text x="316.90" y="346.92" font-size="10.2" text-anchor="end" textLength="9.98" lengthAdjust="spacingAndGlyphs">60</text>
<line x1="322.60" y1="317.86" x2="326.90" y2="317.86" stroke="#111" stroke-width="1.1"/>
<text x="316.90" y="322.06" font-size="10.2" text-anchor="end" textLength="9.98" lengthAdjust="spacingAndGlyphs">80</text>
<line x1="322.60" y1="293.00" x2="326.90" y2="293.00" stroke="#111" stroke-width="1.1"/>
<text x="316.90" y="297.20" font-size="10.2" text-anchor="end" textLength="14.97" lengthAdjust="spacingAndGlyphs">100</text>
<line x1="326.90" y1="417.30" x2="326.90" y2="421.30" stroke="#111" stroke-width="1.1"/>
<text x="326.60" y="435.00" font-size="10.0" text-anchor="middle" textLength="5.28" lengthAdjust="spacingAndGlyphs">0</text>
<line x1="353.45" y1="417.30" x2="353.45" y2="421.30" stroke="#111" stroke-width="1.1"/>
<text x="353.15" y="435.00" font-size="10.0" text-anchor="middle" textLength="5.28" lengthAdjust="spacingAndGlyphs">1</text>
<line x1="380.00" y1="417.30" x2="380.00" y2="421.30" stroke="#111" stroke-width="1.1"/>
<text x="379.70" y="435.00" font-size="10.0" text-anchor="middle" textLength="5.28" lengthAdjust="spacingAndGlyphs">2</text>
<line x1="406.55" y1="417.30" x2="406.55" y2="421.30" stroke="#111" stroke-width="1.1"/>
<text x="406.25" y="435.00" font-size="10.0" text-anchor="middle" textLength="5.28" lengthAdjust="spacingAndGlyphs">3</text>
<line x1="433.10" y1="417.30" x2="433.10" y2="421.30" stroke="#111" stroke-width="1.1"/>
<text x="432.80" y="435.00" font-size="10.0" text-anchor="middle" textLength="5.28" lengthAdjust="spacingAndGlyphs">4</text>
<line x1="459.65" y1="417.30" x2="459.65" y2="421.30" stroke="#111" stroke-width="1.1"/>
<text x="459.35" y="435.00" font-size="10.0" text-anchor="middle" textLength="5.28" lengthAdjust="spacingAndGlyphs">5</text>
<line x1="486.20" y1="417.30" x2="486.20" y2="421.30" stroke="#111" stroke-width="1.1"/>
<text x="485.90" y="435.00" font-size="10.0" text-anchor="middle" textLength="5.28" lengthAdjust="spacingAndGlyphs">6</text>
<line x1="512.75" y1="417.30" x2="512.75" y2="421.30" stroke="#111" stroke-width="1.1"/>
<text x="512.45" y="435.00" font-size="10.0" text-anchor="middle" textLength="5.28" lengthAdjust="spacingAndGlyphs">7</text>
<text x="0" y="0" font-size="11.6" text-anchor="middle" transform="translate(293.20,351.30) rotate(-90)" textLength="86.3" lengthAdjust="spacingAndGlyphs" style="stroke-width:0.22px">Overall survival (%)</text>
<text x="422.50" y="452.60" font-size="11.6" text-anchor="middle" textLength="53.00" lengthAdjust="spacingAndGlyphs" style="stroke-width:0.22px">Time (years)</text>
<text x="367.70" y="380.10" font-size="8.6" textLength="51.30" lengthAdjust="spacingAndGlyphs">2-Year OS (%)</text>
<line x1="332.00" y1="389.20" x2="346.50" y2="389.20" stroke="#EC9635" stroke-width="1.3"/>
<text x="351.00" y="392.40" font-size="9.1" textLength="18.34" lengthAdjust="spacingAndGlyphs">GCB</text>
<text x="388.00" y="392.40" font-size="9.1">83</text>
<line x1="332.00" y1="399.60" x2="346.50" y2="399.60" stroke="#1E6142" stroke-width="1.3"/>
<text x="351.00" y="402.80" font-size="9.1" textLength="18.34" lengthAdjust="spacingAndGlyphs">UNC</text>
<text x="388.00" y="402.80" font-size="9.1">70</text>
<line x1="332.00" y1="410.80" x2="346.50" y2="410.80" stroke="#2AAAD9" stroke-width="1.3"/>
<text x="351.00" y="414.00" font-size="9.1" textLength="17.40" lengthAdjust="spacingAndGlyphs">ABC</text>
<text x="388.00" y="414.00" font-size="9.1">71</text>
<path d="M402.50,389.60H405.20V410.90H402.50" fill="none" stroke="#222" stroke-width="0.95"/>
<circle cx="409.50" cy="399.00" r="0.95" fill="#222"/>
<circle cx="413.10" cy="399.00" r="0.95" fill="#222"/>
<circle cx="416.70" cy="399.00" r="0.95" fill="#222"/>
<text x="284.00" y="465.40" font-size="9.8" textLength="47.20" lengthAdjust="spacingAndGlyphs">No. at risk:</text>
<text x="284.00" y="481.20" font-size="10.4" textLength="20.73" lengthAdjust="spacingAndGlyphs">GCB</text>
<text x="326.90" y="480.80" font-size="9.5" text-anchor="middle" textLength="13.47" lengthAdjust="spacingAndGlyphs">346</text>
<text x="353.45" y="480.80" font-size="9.5" text-anchor="middle" textLength="13.47" lengthAdjust="spacingAndGlyphs">302</text>
<text x="380.00" y="480.80" font-size="9.5" text-anchor="middle" textLength="13.47" lengthAdjust="spacingAndGlyphs">288</text>
<text x="406.55" y="480.80" font-size="9.5" text-anchor="middle" textLength="13.47" lengthAdjust="spacingAndGlyphs">277</text>
<text x="433.10" y="480.80" font-size="9.5" text-anchor="middle" textLength="13.47" lengthAdjust="spacingAndGlyphs">269</text>
<text x="459.65" y="480.80" font-size="9.5" text-anchor="middle" textLength="13.47" lengthAdjust="spacingAndGlyphs">260</text>
<text x="486.20" y="480.80" font-size="9.5" text-anchor="middle" textLength="13.47" lengthAdjust="spacingAndGlyphs">246</text>
<text x="512.75" y="480.80" font-size="9.5" text-anchor="middle" textLength="13.47" lengthAdjust="spacingAndGlyphs">231</text>
<text x="284.00" y="493.80" font-size="10.4" textLength="20.73" lengthAdjust="spacingAndGlyphs">UNC</text>
<text x="326.90" y="493.40" font-size="9.5" text-anchor="middle" textLength="8.98" lengthAdjust="spacingAndGlyphs">70</text>
<text x="353.45" y="493.40" font-size="9.5" text-anchor="middle" textLength="8.98" lengthAdjust="spacingAndGlyphs">61</text>
<text x="380.00" y="493.40" font-size="9.5" text-anchor="middle" textLength="8.98" lengthAdjust="spacingAndGlyphs">50</text>
<text x="406.55" y="493.40" font-size="9.5" text-anchor="middle" textLength="8.98" lengthAdjust="spacingAndGlyphs">48</text>
<text x="433.10" y="493.40" font-size="9.5" text-anchor="middle" textLength="8.98" lengthAdjust="spacingAndGlyphs">46</text>
<text x="459.65" y="493.40" font-size="9.5" text-anchor="middle" textLength="8.98" lengthAdjust="spacingAndGlyphs">44</text>
<text x="486.20" y="493.40" font-size="9.5" text-anchor="middle" textLength="8.98" lengthAdjust="spacingAndGlyphs">42</text>
<text x="512.75" y="493.40" font-size="9.5" text-anchor="middle" textLength="8.98" lengthAdjust="spacingAndGlyphs">38</text>
<text x="284.00" y="506.40" font-size="10.4" textLength="19.67" lengthAdjust="spacingAndGlyphs">ABC</text>
<text x="326.90" y="506.00" font-size="9.5" text-anchor="middle" textLength="13.47" lengthAdjust="spacingAndGlyphs">213</text>
<text x="353.45" y="506.00" font-size="9.5" text-anchor="middle" textLength="13.47" lengthAdjust="spacingAndGlyphs">178</text>
<text x="380.00" y="506.00" font-size="9.5" text-anchor="middle" textLength="13.47" lengthAdjust="spacingAndGlyphs">152</text>
<text x="406.55" y="506.00" font-size="9.5" text-anchor="middle" textLength="13.47" lengthAdjust="spacingAndGlyphs">143</text>
<text x="433.10" y="506.00" font-size="9.5" text-anchor="middle" textLength="13.47" lengthAdjust="spacingAndGlyphs">136</text>
<text x="459.65" y="506.00" font-size="9.5" text-anchor="middle" textLength="13.47" lengthAdjust="spacingAndGlyphs">128</text>
<text x="486.20" y="506.00" font-size="9.5" text-anchor="middle" textLength="13.47" lengthAdjust="spacingAndGlyphs">121</text>
<text x="512.75" y="506.00" font-size="9.5" text-anchor="middle" textLength="12.87" lengthAdjust="spacingAndGlyphs">113</text>
<path d="M59.40,567.40 L61.10,567.40 L61.10,568.55 L62.80,568.55 L62.80,569.70 L64.70,569.70 L64.70,571.15 L66.60,571.15 L66.60,572.60 L68.55,572.60 L68.55,574.05 L70.50,574.05 L70.50,575.50 L73.30,575.50 L73.30,577.00 L76.20,577.00 L76.20,578.40 L81.00,579.30 L85.80,580.30 L95.50,581.30 L107.00,582.20 L125.00,584.50 L144.60,584.50 L145.80,584.50 L145.80,585.40 L174.60,585.40 L176.30,585.40 L176.30,586.50 L185.00,586.90 L208.75,587.10 L211.25,587.10 L211.25,588.75 L240.40,588.75" fill="none" stroke="#EC9635" stroke-width="1.25" stroke-linejoin="round"/>
<path d="M59.40,567.40 L59.45,567.40 L59.45,568.70 L59.50,568.70 L59.50,570.00 L59.55,570.00 L59.55,571.30 L59.60,571.30 L59.60,572.60 L60.15,572.60 L60.15,573.80 L60.70,573.80 L60.70,575.00 L61.25,575.00 L61.25,576.20 L61.80,576.20 L61.80,577.40 L62.00,577.40 L62.00,578.76 L62.20,578.76 L62.20,580.12 L62.40,580.12 L62.40,581.48 L62.60,581.48 L62.60,582.84 L62.80,582.84 L62.80,584.20 L63.15,584.20 L63.15,585.65 L63.50,585.65 L63.50,587.10 L63.85,587.10 L63.85,588.55 L64.20,588.55 L64.20,590.00 L66.60,590.00 L66.60,591.80 L67.40,591.80 L67.40,593.10 L68.20,593.10 L68.20,594.40 L69.00,594.40 L69.00,595.70 L69.18,595.70 L69.18,596.93 L69.37,596.93 L69.37,598.17 L69.55,598.17 L69.55,599.40 L69.73,599.40 L69.73,600.63 L69.92,600.63 L69.92,601.87 L70.10,601.87 L70.10,603.10 L71.25,603.10 L71.25,604.20 L72.40,604.20 L72.40,605.30 L73.50,605.30 L73.50,607.10 L74.17,607.10 L74.17,608.47 L74.83,608.47 L74.83,609.83 L75.50,609.83 L75.50,611.20 L75.83,611.20 L75.83,612.53 L76.15,612.53 L76.15,613.85 L76.47,613.85 L76.47,615.17 L76.80,615.17 L76.80,616.50 L77.65,616.50 L77.65,617.85 L78.50,617.85 L78.50,619.20 L79.35,619.20 L79.35,620.55 L80.20,620.55 L80.20,621.90 L81.90,621.90 L81.90,623.25 L83.60,623.25 L83.60,624.60 L85.95,624.60 L85.95,625.80 L88.30,625.80 L88.30,627.00 L123.30,627.00 L125.30,627.00 L125.30,628.60 L127.90,628.60 L128.45,628.60 L128.45,629.75 L129.00,629.75 L129.00,630.90 L147.50,630.90 L148.60,630.90 L148.60,632.70 L240.40,632.75" fill="none" stroke="#CF2C36" stroke-width="1.25" stroke-linejoin="round"/>
<path d="M59.40,567.40 L60.25,567.40 L60.25,568.58 L61.10,568.58 L61.10,569.75 L61.95,569.75 L61.95,570.92 L62.80,570.92 L62.80,572.10 L65.70,572.10 L65.70,573.60 L66.97,573.60 L66.97,574.87 L68.23,574.87 L68.23,576.13 L69.50,576.13 L69.50,577.40 L70.22,577.40 L70.22,578.85 L70.95,578.85 L70.95,580.30 L71.68,580.30 L71.68,581.75 L72.40,581.75 L72.40,583.20 L73.12,583.20 L73.12,584.53 L73.85,584.53 L73.85,585.85 L74.58,585.85 L74.58,587.17 L75.30,587.17 L75.30,588.50 L75.78,588.50 L75.78,589.83 L76.25,589.83 L76.25,591.15 L76.72,591.15 L76.72,592.47 L77.20,592.47 L77.20,593.80 L78.15,593.80 L78.15,595.00 L79.10,595.00 L79.10,596.20 L82.00,596.20 L82.00,597.60 L83.27,597.60 L83.27,598.73 L84.53,598.73 L84.53,599.87 L85.80,599.87 L85.80,601.00 L88.90,601.00 L88.90,602.40 L91.17,602.40 L91.17,603.73 L93.43,603.73 L93.43,605.07 L95.70,605.07 L95.70,606.40 L103.10,607.10 L113.80,608.50 L124.60,611.20 L129.60,612.10 L133.10,612.10 L133.10,613.30 L153.80,614.20 L163.10,614.80 L173.40,615.60 L179.20,616.70 L203.75,616.70 L205.00,616.70 L205.00,618.10 L218.75,618.10 L221.25,618.10 L221.25,619.00 L232.50,619.00 L235.00,619.00 L235.00,620.25 L240.40,620.60" fill="none" stroke="#2AAAD9" stroke-width="1.25" stroke-linejoin="round"/>
<path d="M59.40,567.40 L60.25,567.40 L60.25,568.58 L61.10,568.58 L61.10,569.75 L61.95,569.75 L61.95,570.92 L62.80,570.92 L62.80,572.10 L66.60,572.60 L68.05,572.60 L68.05,574.05 L69.50,574.05 L69.50,575.50 L73.30,575.50 L73.30,577.40 L74.30,577.40 L74.30,578.60 L75.30,578.60 L75.30,579.80 L76.27,579.80 L76.27,580.93 L77.23,580.93 L77.23,582.07 L78.20,582.07 L78.20,583.20 L78.67,583.20 L78.67,584.53 L79.15,584.53 L79.15,585.85 L79.62,585.85 L79.62,587.17 L80.10,587.17 L80.10,588.50 L82.00,588.50 L82.00,589.40 L85.80,589.90 L88.70,589.90 L88.70,591.80 L88.95,591.80 L88.95,593.25 L89.20,593.25 L89.20,594.70 L89.45,594.70 L89.45,596.15 L89.70,596.15 L89.70,597.60 L93.50,597.60 L93.50,599.10 L94.90,599.10 L94.90,600.40 L96.30,600.40 L96.30,601.70 L116.50,601.70 L116.85,601.70 L116.85,602.70 L117.20,602.70 L117.20,603.70 L152.70,603.80 L153.25,603.80 L153.25,604.95 L153.80,604.95 L153.80,606.10 L163.10,606.10 L164.80,606.10 L164.80,607.90 L207.50,607.90 L208.75,607.90 L208.75,609.75 L215.60,609.75 L216.25,609.75 L216.25,610.83 L216.90,610.83 L216.90,611.90 L240.40,611.90" fill="none" stroke="#1E6142" stroke-width="1.25" stroke-linejoin="round"/>
<path d="M79.10,575.94V579.24M89.70,577.70V581.00M92.60,578.00V581.30M94.00,578.15V581.45M96.00,578.34V581.64M127.90,581.50V584.80M133.70,581.50V584.80M137.10,581.50V584.80M139.40,581.50V584.80M144.00,581.50V584.80M150.40,582.40V585.70M157.50,582.40V585.70M174.80,582.53V585.83M182.70,583.79V587.09M185.00,583.90V587.20M187.50,583.92V587.22M190.00,583.94V587.24M192.50,583.96V587.26M195.00,583.98V587.28M197.50,584.01V587.31M200.00,584.03V587.33M202.50,584.05V587.35M205.00,584.07V587.37M211.90,585.75V589.05M220.00,585.75V589.05M222.50,585.75V589.05M225.00,585.75V589.05M228.00,585.75V589.05M231.00,585.75V589.05M234.00,585.75V589.05M236.50,585.75V589.05M239.50,585.75V589.05" stroke="#111" stroke-width="1.1" fill="none"/>
<path d="M83.60,621.60V624.90M95.30,624.00V627.30M128.50,626.85V630.15M195.00,629.73V633.03M205.60,629.73V633.03M232.50,629.75V633.05" stroke="#111" stroke-width="1.1" fill="none"/>
<path d="M89.20,599.58V602.88M101.70,603.97V607.27M126.40,608.52V611.82M129.00,608.99V612.29M134.20,610.35V613.65M142.30,610.70V614.00M157.10,611.41V614.71M163.10,611.80V615.10M166.00,612.03V615.33M169.40,612.29V615.59M180.40,613.70V617.00M183.80,613.70V617.00M191.00,613.70V617.00M199.40,613.70V617.00M201.25,613.70V617.00M203.00,613.70V617.00M212.50,615.10V618.40M220.00,615.55V618.85M228.75,616.00V619.30M232.50,616.00V619.30" stroke="#111" stroke-width="1.1" fill="none"/>
<path d="M157.10,603.10V606.40M168.80,604.90V608.20M175.40,604.90V608.20M198.75,604.90V608.20M215.00,606.75V610.05M231.25,608.90V612.20M237.50,608.90V612.20" stroke="#111" stroke-width="1.1" fill="none"/>
<line x1="59.40" y1="563.00" x2="59.40" y2="691.00" stroke="#111" stroke-width="1.35"/>
<line x1="58.80" y1="690.40" x2="245.20" y2="690.40" stroke="#111" stroke-width="1.35"/>
<line x1="55.10" y1="690.40" x2="59.40" y2="690.40" stroke="#111" stroke-width="1.1"/>
<text x="49.40" y="694.60" font-size="10.2" text-anchor="end" textLength="4.99" lengthAdjust="spacingAndGlyphs">0</text>
<line x1="55.10" y1="665.80" x2="59.40" y2="665.80" stroke="#111" stroke-width="1.1"/>
<text x="49.40" y="670.00" font-size="10.2" text-anchor="end" textLength="9.98" lengthAdjust="spacingAndGlyphs">20</text>
<line x1="55.10" y1="641.20" x2="59.40" y2="641.20" stroke="#111" stroke-width="1.1"/>
<text x="49.40" y="645.40" font-size="10.2" text-anchor="end" textLength="9.98" lengthAdjust="spacingAndGlyphs">40</text>
<line x1="55.10" y1="616.60" x2="59.40" y2="616.60" stroke="#111" stroke-width="1.1"/>
<text x="49.40" y="620.80" font-size="10.2" text-anchor="end" textLength="9.98" lengthAdjust="spacingAndGlyphs">60</text>
<line x1="55.10" y1="592.00" x2="59.40" y2="592.00" stroke="#111" stroke-width="1.1"/>
<text x="49.40" y="596.20" font-size="10.2" text-anchor="end" textLength="9.98" lengthAdjust="spacingAndGlyphs">80</text>
<line x1="55.10" y1="567.40" x2="59.40" y2="567.40" stroke="#111" stroke-width="1.1"/>
<text x="49.40" y="571.60" font-size="10.2" text-anchor="end" textLength="14.97" lengthAdjust="spacingAndGlyphs">100</text>
<line x1="59.40" y1="690.40" x2="59.40" y2="694.40" stroke="#111" stroke-width="1.1"/>
<text x="59.10" y="708.00" font-size="10.0" text-anchor="middle" textLength="5.28" lengthAdjust="spacingAndGlyphs">0</text>
<line x1="85.26" y1="690.40" x2="85.26" y2="694.40" stroke="#111" stroke-width="1.1"/>
<text x="84.96" y="708.00" font-size="10.0" text-anchor="middle" textLength="5.28" lengthAdjust="spacingAndGlyphs">1</text>
<line x1="111.12" y1="690.40" x2="111.12" y2="694.40" stroke="#111" stroke-width="1.1"/>
<text x="110.82" y="708.00" font-size="10.0" text-anchor="middle" textLength="5.28" lengthAdjust="spacingAndGlyphs">2</text>
<line x1="136.98" y1="690.40" x2="136.98" y2="694.40" stroke="#111" stroke-width="1.1"/>
<text x="136.68" y="708.00" font-size="10.0" text-anchor="middle" textLength="5.28" lengthAdjust="spacingAndGlyphs">3</text>
<line x1="162.84" y1="690.40" x2="162.84" y2="694.40" stroke="#111" stroke-width="1.1"/>
<text x="162.54" y="708.00" font-size="10.0" text-anchor="middle" textLength="5.28" lengthAdjust="spacingAndGlyphs">4</text>
<line x1="188.70" y1="690.40" x2="188.70" y2="694.40" stroke="#111" stroke-width="1.1"/>
<text x="188.40" y="708.00" font-size="10.0" text-anchor="middle" textLength="5.28" lengthAdjust="spacingAndGlyphs">5</text>
<line x1="214.56" y1="690.40" x2="214.56" y2="694.40" stroke="#111" stroke-width="1.1"/>
<text x="214.26" y="708.00" font-size="10.0" text-anchor="middle" textLength="5.28" lengthAdjust="spacingAndGlyphs">6</text>
<line x1="240.42" y1="690.40" x2="240.42" y2="694.40" stroke="#111" stroke-width="1.1"/>
<text x="240.12" y="708.00" font-size="10.0" text-anchor="middle" textLength="5.28" lengthAdjust="spacingAndGlyphs">7</text>
<text x="0" y="0" font-size="11.6" text-anchor="middle" transform="translate(26.40,624.80) rotate(-90)" textLength="130.8" lengthAdjust="spacingAndGlyphs" style="stroke-width:0.22px">Freedom from progression (%)</text>
<text x="152.25" y="725.80" font-size="11.6" text-anchor="middle" textLength="52.10" lengthAdjust="spacingAndGlyphs" style="stroke-width:0.22px">Time (years)</text>
<text x="95.60" y="648.40" font-size="8.6" textLength="53.70" lengthAdjust="spacingAndGlyphs">2-Year FFP (%)</text>
<line x1="61.30" y1="656.80" x2="76.30" y2="656.80" stroke="#EC9635" stroke-width="1.3"/>
<text x="80.80" y="660.00" font-size="9.1" textLength="18.34" lengthAdjust="spacingAndGlyphs">GCB</text>
<text x="118.00" y="660.00" font-size="9.1">87</text>
<line x1="61.30" y1="665.20" x2="76.30" y2="665.20" stroke="#1E6142" stroke-width="1.3"/>
<text x="80.80" y="668.40" font-size="9.1" textLength="18.34" lengthAdjust="spacingAndGlyphs">UNC</text>
<text x="118.00" y="668.40" font-size="9.1">72</text>
<line x1="61.30" y1="674.10" x2="76.30" y2="674.10" stroke="#2AAAD9" stroke-width="1.3"/>
<text x="80.80" y="677.30" font-size="9.1" textLength="17.40" lengthAdjust="spacingAndGlyphs">ABC</text>
<text x="118.00" y="677.30" font-size="9.1">67</text>
<line x1="61.30" y1="683.40" x2="76.30" y2="683.40" stroke="#CF2C36" stroke-width="1.3"/>
<text x="80.80" y="686.60" font-size="9.1">DZsig<tspan font-size="6.0" dy="-3.2">pos</tspan></text>
<text x="118.00" y="686.60" font-size="9.1">51</text>
<path d="M129.40,656.30H132.10V665.20H129.40" fill="none" stroke="#222" stroke-width="0.95"/>
<path d="M129.40,667.50H132.10V685.40H129.40" fill="none" stroke="#222" stroke-width="0.95"/>
<path d="M142.50,656.20H145.20V675.90H142.50" fill="none" stroke="#222" stroke-width="0.95"/>
<path d="M159.80,655.10H162.50V685.40H159.80" fill="none" stroke="#222" stroke-width="0.95"/>
<circle cx="136.10" cy="660.60" r="0.95" fill="#222"/>
<circle cx="139.70" cy="660.60" r="0.95" fill="#222"/>
<circle cx="143.30" cy="660.60" r="0.95" fill="#222"/>
<circle cx="136.60" cy="676.10" r="0.95" fill="#222"/>
<circle cx="149.00" cy="666.00" r="0.95" fill="#222"/>
<circle cx="152.60" cy="666.00" r="0.95" fill="#222"/>
<circle cx="156.20" cy="666.00" r="0.95" fill="#222"/>
<circle cx="159.80" cy="666.00" r="0.95" fill="#222"/>
<circle cx="166.00" cy="669.20" r="0.95" fill="#222"/>
<circle cx="169.60" cy="669.20" r="0.95" fill="#222"/>
<circle cx="173.20" cy="669.20" r="0.95" fill="#222"/>
<circle cx="176.80" cy="669.20" r="0.95" fill="#222"/>
<text x="0.50" y="739.60" font-size="9.8" textLength="47.50" lengthAdjust="spacingAndGlyphs">No. at risk:</text>
<text x="0.50" y="755.00" font-size="10.4" textLength="20.73" lengthAdjust="spacingAndGlyphs">GCB</text>
<text x="59.40" y="754.60" font-size="9.5" text-anchor="middle" textLength="13.47" lengthAdjust="spacingAndGlyphs">279</text>
<text x="85.26" y="754.60" font-size="9.5" text-anchor="middle" textLength="13.47" lengthAdjust="spacingAndGlyphs">249</text>
<text x="111.12" y="754.60" font-size="9.5" text-anchor="middle" textLength="13.47" lengthAdjust="spacingAndGlyphs">239</text>
<text x="136.98" y="754.60" font-size="9.5" text-anchor="middle" textLength="13.47" lengthAdjust="spacingAndGlyphs">232</text>
<text x="162.84" y="754.60" font-size="9.5" text-anchor="middle" textLength="13.47" lengthAdjust="spacingAndGlyphs">225</text>
<text x="188.70" y="754.60" font-size="9.5" text-anchor="middle" textLength="13.47" lengthAdjust="spacingAndGlyphs">216</text>
<text x="214.56" y="754.60" font-size="9.5" text-anchor="middle" textLength="13.47" lengthAdjust="spacingAndGlyphs">203</text>
<text x="240.42" y="754.60" font-size="9.5" text-anchor="middle" textLength="13.47" lengthAdjust="spacingAndGlyphs">192</text>
<text x="0.50" y="768.30" font-size="10.4" textLength="20.73" lengthAdjust="spacingAndGlyphs">UNC</text>
<text x="59.40" y="767.90" font-size="9.5" text-anchor="middle" textLength="8.98" lengthAdjust="spacingAndGlyphs">67</text>
<text x="85.26" y="767.90" font-size="9.5" text-anchor="middle" textLength="8.98" lengthAdjust="spacingAndGlyphs">56</text>
<text x="111.12" y="767.90" font-size="9.5" text-anchor="middle" textLength="8.98" lengthAdjust="spacingAndGlyphs">49</text>
<text x="136.98" y="767.90" font-size="9.5" text-anchor="middle" textLength="8.98" lengthAdjust="spacingAndGlyphs">48</text>
<text x="162.84" y="767.90" font-size="9.5" text-anchor="middle" textLength="8.98" lengthAdjust="spacingAndGlyphs">46</text>
<text x="188.70" y="767.90" font-size="9.5" text-anchor="middle" textLength="8.98" lengthAdjust="spacingAndGlyphs">43</text>
<text x="214.56" y="767.90" font-size="9.5" text-anchor="middle" textLength="8.98" lengthAdjust="spacingAndGlyphs">41</text>
<text x="240.42" y="767.90" font-size="9.5" text-anchor="middle" textLength="8.98" lengthAdjust="spacingAndGlyphs">37</text>
<text x="0.50" y="781.70" font-size="10.4" textLength="19.67" lengthAdjust="spacingAndGlyphs">ABC</text>
<text x="59.40" y="781.30" font-size="9.5" text-anchor="middle" textLength="13.47" lengthAdjust="spacingAndGlyphs">213</text>
<text x="85.26" y="781.30" font-size="9.5" text-anchor="middle" textLength="13.47" lengthAdjust="spacingAndGlyphs">157</text>
<text x="111.12" y="781.30" font-size="9.5" text-anchor="middle" textLength="13.47" lengthAdjust="spacingAndGlyphs">140</text>
<text x="136.98" y="781.30" font-size="9.5" text-anchor="middle" textLength="13.47" lengthAdjust="spacingAndGlyphs">127</text>
<text x="162.84" y="781.30" font-size="9.5" text-anchor="middle" textLength="13.47" lengthAdjust="spacingAndGlyphs">123</text>
<text x="188.70" y="781.30" font-size="9.5" text-anchor="middle" textLength="12.87" lengthAdjust="spacingAndGlyphs">114</text>
<text x="214.56" y="781.30" font-size="9.5" text-anchor="middle" textLength="13.47" lengthAdjust="spacingAndGlyphs">107</text>
<text x="240.42" y="781.30" font-size="9.5" text-anchor="middle" textLength="13.47" lengthAdjust="spacingAndGlyphs">100</text>
<text x="0" y="0" font-size="10.4" transform="translate(0.50,795.60) scale(0.93,1)">DZsig<tspan font-size="7.2" dy="-3.6">pos</tspan></text>
<text x="59.40" y="795.20" font-size="9.5" text-anchor="middle" textLength="8.98" lengthAdjust="spacingAndGlyphs">70</text>
<text x="85.26" y="795.20" font-size="9.5" text-anchor="middle" textLength="8.98" lengthAdjust="spacingAndGlyphs">37</text>
<text x="111.12" y="795.20" font-size="9.5" text-anchor="middle" textLength="8.98" lengthAdjust="spacingAndGlyphs">35</text>
<text x="136.98" y="795.20" font-size="9.5" text-anchor="middle" textLength="8.98" lengthAdjust="spacingAndGlyphs">33</text>
<text x="162.84" y="795.20" font-size="9.5" text-anchor="middle" textLength="8.98" lengthAdjust="spacingAndGlyphs">31</text>
<text x="188.70" y="795.20" font-size="9.5" text-anchor="middle" textLength="8.98" lengthAdjust="spacingAndGlyphs">31</text>
<text x="214.56" y="795.20" font-size="9.5" text-anchor="middle" textLength="8.98" lengthAdjust="spacingAndGlyphs">29</text>
<text x="240.42" y="795.20" font-size="9.5" text-anchor="middle" textLength="8.98" lengthAdjust="spacingAndGlyphs">28</text>
<path d="M326.90,569.30 L329.30,569.30 L329.30,570.30 L331.70,570.30 L331.70,571.30 L333.30,571.30 L333.30,572.40 L334.90,572.40 L334.90,573.50 L336.50,573.50 L336.50,574.60 L339.40,574.60 L339.40,576.50 L345.20,578.00 L352.80,578.50 L359.60,579.40 L362.50,579.40 L362.50,580.90 L364.40,580.90 L364.40,582.30 L374.00,582.80 L384.80,582.80 L392.90,583.50 L396.60,583.50 L396.60,584.85 L400.30,584.85 L400.30,586.20 L417.10,587.50 L430.60,588.20 L435.00,588.30 L443.70,589.40 L452.30,591.60 L463.90,593.00 L478.30,593.80 L492.70,596.60 L504.50,598.40" fill="none" stroke="#EC9635" stroke-width="1.25" stroke-linejoin="round"/>
<path d="M326.90,569.30 L326.92,569.30 L326.92,570.56 L326.94,570.56 L326.94,571.82 L326.96,571.82 L326.96,573.08 L326.98,573.08 L326.98,574.34 L327.00,574.34 L327.00,575.60 L327.93,575.60 L327.93,576.87 L328.87,576.87 L328.87,578.13 L329.80,578.13 L329.80,579.40 L330.75,579.40 L330.75,580.60 L331.70,580.60 L331.70,581.80 L332.65,581.80 L332.65,583.00 L333.60,583.00 L333.60,584.20 L335.05,584.20 L335.05,585.65 L336.50,585.65 L336.50,587.10 L337.47,587.10 L337.47,588.23 L338.43,588.23 L338.43,589.37 L339.40,589.37 L339.40,590.50 L339.78,590.50 L339.78,591.74 L340.16,591.74 L340.16,592.98 L340.54,592.98 L340.54,594.22 L340.92,594.22 L340.92,595.46 L341.30,595.46 L341.30,596.70 L341.60,596.70 L341.60,597.96 L341.90,597.96 L341.90,599.22 L342.20,599.22 L342.20,600.48 L342.50,600.48 L342.50,601.74 L342.80,601.74 L342.80,603.00 L344.23,603.00 L344.23,604.10 L345.67,604.10 L345.67,605.20 L347.10,605.20 L347.10,606.30 L348.30,606.30 L348.30,607.75 L349.50,607.75 L349.50,609.20 L350.08,609.20 L350.08,610.56 L350.66,610.56 L350.66,611.92 L351.24,611.92 L351.24,613.28 L351.82,613.28 L351.82,614.64 L352.40,614.64 L352.40,616.00 L356.70,616.40 L358.60,616.40 L358.60,617.40 L360.50,617.40 L360.50,618.40 L362.45,618.40 L362.45,619.60 L364.40,619.60 L364.40,620.80 L370.00,621.10 L377.40,621.10 L378.75,621.10 L378.75,622.15 L380.10,622.15 L380.10,623.20 L384.80,623.20 L387.50,623.20 L387.50,624.50 L391.50,625.20 L393.20,625.20 L393.20,626.65 L394.90,626.65 L394.90,628.10 L435.00,628.50 L470.40,628.70 L471.10,628.70 L471.10,630.10 L481.20,630.10 L481.90,630.10 L481.90,631.70 L496.30,631.70 L497.75,631.70 L497.75,633.10 L499.20,633.10 L499.20,634.50 L504.50,635.30" fill="none" stroke="#CF2C36" stroke-width="1.25" stroke-linejoin="round"/>
<path d="M326.90,569.30 L327.87,569.30 L327.87,570.43 L328.83,570.43 L328.83,571.57 L329.80,571.57 L329.80,572.70 L333.60,572.70 L333.60,574.60 L335.20,574.60 L335.20,575.90 L336.80,575.90 L336.80,577.20 L338.40,577.20 L338.40,578.50 L339.37,578.50 L339.37,579.77 L340.33,579.77 L340.33,581.03 L341.30,581.03 L341.30,582.30 L342.25,582.30 L342.25,583.50 L343.20,583.50 L343.20,584.70 L345.15,584.70 L345.15,585.90 L347.10,585.90 L347.10,587.10 L349.00,587.10 L349.00,588.55 L350.90,588.55 L350.90,590.00 L353.80,590.00 L353.80,591.40 L355.25,591.40 L355.25,592.60 L356.70,592.60 L356.70,593.80 L357.97,593.80 L357.97,595.27 L359.23,595.27 L359.23,596.73 L360.50,596.73 L360.50,598.20 L362.45,598.20 L362.45,599.40 L364.40,599.40 L364.40,600.60 L369.20,600.60 L369.20,602.50 L374.00,603.30 L383.50,604.30 L386.63,604.30 L386.63,605.43 L389.77,605.43 L389.77,606.57 L392.90,606.57 L392.90,607.70 L407.70,609.70 L418.50,612.40 L429.20,614.40 L435.00,614.70 L449.40,616.10 L461.00,617.60 L469.60,619.00 L484.00,620.90 L497.00,621.90 L504.50,623.30" fill="none" stroke="#2AAAD9" stroke-width="1.25" stroke-linejoin="round"/>
<path d="M326.90,569.30 L328.35,569.30 L328.35,570.75 L329.80,570.75 L329.80,572.20 L333.60,572.20 L333.60,573.70 L335.05,573.70 L335.05,575.10 L336.50,575.10 L336.50,576.50 L338.40,576.50 L338.40,578.00 L348.00,578.50 L348.17,578.50 L348.17,579.60 L348.33,579.60 L348.33,580.70 L348.50,580.70 L348.50,581.80 L351.90,581.80 L351.90,583.30 L354.80,583.30 L354.80,584.20 L355.25,584.20 L355.25,585.65 L355.70,585.65 L355.70,587.10 L356.70,587.10 L356.70,588.55 L357.70,588.55 L357.70,590.00 L360.50,590.00 L360.50,591.00 L364.40,591.90 L366.30,591.90 L366.30,592.90 L369.20,592.90 L369.20,594.80 L369.55,594.80 L369.55,596.00 L369.90,596.00 L369.90,597.20 L370.25,597.20 L370.25,598.40 L370.60,598.40 L370.60,599.60 L373.65,599.60 L373.65,600.60 L376.70,600.60 L376.70,601.60 L383.50,603.00 L385.50,603.00 L385.50,604.15 L387.50,604.15 L387.50,605.30 L418.50,605.30 L419.83,605.30 L419.83,606.53 L421.17,606.53 L421.17,607.77 L422.50,607.77 L422.50,609.00 L433.30,609.00 L434.60,609.00 L434.60,610.80 L453.80,610.80 L454.50,610.80 L454.50,611.80 L455.20,611.80 L455.20,612.80 L479.00,612.80 L480.50,612.80 L480.50,614.20 L495.60,614.20 L496.07,614.20 L496.07,615.57 L496.53,615.57 L496.53,616.93 L497.00,616.93 L497.00,618.30 L501.40,618.30 L502.10,618.30 L502.10,619.40 L502.80,619.40 L502.80,620.50 L504.50,620.50" fill="none" stroke="#1E6142" stroke-width="1.25" stroke-linejoin="round"/>
<path d="M362.50,577.90V581.20M416.20,584.43V587.73M423.40,584.83V588.13M432.30,585.24V588.54M455.20,588.95V592.25M456.60,589.12V592.42M461.30,589.69V592.99M467.90,590.22V593.52M469.60,590.32V593.62M476.40,590.69V593.99M501.40,594.93V598.23" stroke="#111" stroke-width="1.1" fill="none"/>
<path d="M448.70,625.58V628.88M460.30,625.64V628.94" stroke="#111" stroke-width="1.1" fill="none"/>
<path d="M367.80,598.95V602.25M445.80,612.75V616.05M448.70,613.03V616.33M467.00,615.58V618.88M476.80,616.95V620.25M493.00,618.59V621.89M497.30,618.96V622.26" stroke="#111" stroke-width="1.1" fill="none"/>
<path d="M440.50,607.80V611.10M463.60,609.80V613.10M501.40,615.30V618.60" stroke="#111" stroke-width="1.1" fill="none"/>
<line x1="326.90" y1="565.50" x2="326.90" y2="691.10" stroke="#111" stroke-width="1.35"/>
<line x1="326.30" y1="690.50" x2="508.50" y2="690.50" stroke="#111" stroke-width="1.35"/>
<line x1="322.60" y1="690.50" x2="326.90" y2="690.50" stroke="#111" stroke-width="1.1"/>
<text x="316.90" y="694.70" font-size="10.2" text-anchor="end" textLength="4.99" lengthAdjust="spacingAndGlyphs">0</text>
<line x1="322.60" y1="666.26" x2="326.90" y2="666.26" stroke="#111" stroke-width="1.1"/>
<text x="316.90" y="670.46" font-size="10.2" text-anchor="end" textLength="9.98" lengthAdjust="spacingAndGlyphs">20</text>
<line x1="322.60" y1="642.02" x2="326.90" y2="642.02" stroke="#111" stroke-width="1.1"/>
<text x="316.90" y="646.22" font-size="10.2" text-anchor="end" textLength="9.98" lengthAdjust="spacingAndGlyphs">40</text>
<line x1="322.60" y1="617.78" x2="326.90" y2="617.78" stroke="#111" stroke-width="1.1"/>
<text x="316.90" y="621.98" font-size="10.2" text-anchor="end" textLength="9.98" lengthAdjust="spacingAndGlyphs">60</text>
<line x1="322.60" y1="593.54" x2="326.90" y2="593.54" stroke="#111" stroke-width="1.1"/>
<text x="316.90" y="597.74" font-size="10.2" text-anchor="end" textLength="9.98" lengthAdjust="spacingAndGlyphs">80</text>
<line x1="322.60" y1="569.30" x2="326.90" y2="569.30" stroke="#111" stroke-width="1.1"/>
<text x="316.90" y="573.50" font-size="10.2" text-anchor="end" textLength="14.97" lengthAdjust="spacingAndGlyphs">100</text>
<line x1="326.90" y1="690.50" x2="326.90" y2="694.50" stroke="#111" stroke-width="1.1"/>
<text x="326.60" y="708.00" font-size="10.0" text-anchor="middle" textLength="5.28" lengthAdjust="spacingAndGlyphs">0</text>
<line x1="352.29" y1="690.50" x2="352.29" y2="694.50" stroke="#111" stroke-width="1.1"/>
<text x="351.99" y="708.00" font-size="10.0" text-anchor="middle" textLength="5.28" lengthAdjust="spacingAndGlyphs">1</text>
<line x1="377.68" y1="690.50" x2="377.68" y2="694.50" stroke="#111" stroke-width="1.1"/>
<text x="377.38" y="708.00" font-size="10.0" text-anchor="middle" textLength="5.28" lengthAdjust="spacingAndGlyphs">2</text>
<line x1="403.07" y1="690.50" x2="403.07" y2="694.50" stroke="#111" stroke-width="1.1"/>
<text x="402.77" y="708.00" font-size="10.0" text-anchor="middle" textLength="5.28" lengthAdjust="spacingAndGlyphs">3</text>
<line x1="428.46" y1="690.50" x2="428.46" y2="694.50" stroke="#111" stroke-width="1.1"/>
<text x="428.16" y="708.00" font-size="10.0" text-anchor="middle" textLength="5.28" lengthAdjust="spacingAndGlyphs">4</text>
<line x1="453.85" y1="690.50" x2="453.85" y2="694.50" stroke="#111" stroke-width="1.1"/>
<text x="453.55" y="708.00" font-size="10.0" text-anchor="middle" textLength="5.28" lengthAdjust="spacingAndGlyphs">5</text>
<line x1="479.24" y1="690.50" x2="479.24" y2="694.50" stroke="#111" stroke-width="1.1"/>
<text x="478.94" y="708.00" font-size="10.0" text-anchor="middle" textLength="5.28" lengthAdjust="spacingAndGlyphs">6</text>
<line x1="504.63" y1="690.50" x2="504.63" y2="694.50" stroke="#111" stroke-width="1.1"/>
<text x="504.33" y="708.00" font-size="10.0" text-anchor="middle" textLength="5.28" lengthAdjust="spacingAndGlyphs">7</text>
<text x="0" y="0" font-size="11.6" text-anchor="middle" transform="translate(293.20,623.80) rotate(-90)" textLength="82.8" lengthAdjust="spacingAndGlyphs" style="stroke-width:0.22px">Overall survival (%)</text>
<text x="418.65" y="726.00" font-size="11.6" text-anchor="middle" textLength="52.70" lengthAdjust="spacingAndGlyphs" style="stroke-width:0.22px">Time (years)</text>
<text x="368.80" y="650.10" font-size="8.6" textLength="51.40" lengthAdjust="spacingAndGlyphs">2-Year OS (%)</text>
<line x1="333.00" y1="658.30" x2="348.00" y2="658.30" stroke="#EC9635" stroke-width="1.3"/>
<text x="352.20" y="661.50" font-size="9.1" textLength="18.34" lengthAdjust="spacingAndGlyphs">GCB</text>
<text x="390.00" y="661.50" font-size="9.1">89</text>
<line x1="333.00" y1="667.25" x2="348.00" y2="667.25" stroke="#1E6142" stroke-width="1.3"/>
<text x="352.20" y="670.45" font-size="9.1" textLength="18.34" lengthAdjust="spacingAndGlyphs">UNC</text>
<text x="390.00" y="670.45" font-size="9.1">73</text>
<line x1="333.00" y1="675.80" x2="348.00" y2="675.80" stroke="#2AAAD9" stroke-width="1.3"/>
<text x="352.20" y="679.00" font-size="9.1" textLength="17.40" lengthAdjust="spacingAndGlyphs">ABC</text>
<text x="390.00" y="679.00" font-size="9.1">71</text>
<line x1="333.00" y1="684.60" x2="348.00" y2="684.60" stroke="#CF2C36" stroke-width="1.3"/>
<text x="352.20" y="687.80" font-size="9.1">DZsig<tspan font-size="6.0" dy="-3.2">pos</tspan></text>
<text x="390.00" y="687.80" font-size="9.1">57</text>
<path d="M401.70,657.00H404.40V668.00H401.70" fill="none" stroke="#222" stroke-width="0.95"/>
<path d="M412.70,656.50H415.40V677.75H412.70" fill="none" stroke="#222" stroke-width="0.95"/>
<path d="M428.80,655.75H431.50V686.10H428.80" fill="none" stroke="#222" stroke-width="0.95"/>
<circle cx="408.20" cy="662.40" r="0.95" fill="#222"/>
<circle cx="418.75" cy="667.40" r="0.95" fill="#222"/>
<circle cx="422.35" cy="667.40" r="0.95" fill="#222"/>
<circle cx="425.95" cy="667.40" r="0.95" fill="#222"/>
<circle cx="434.50" cy="671.50" r="0.95" fill="#222"/>
<circle cx="438.10" cy="671.50" r="0.95" fill="#222"/>
<circle cx="441.70" cy="671.50" r="0.95" fill="#222"/>
<circle cx="445.30" cy="671.50" r="0.95" fill="#222"/>
<text x="268.00" y="739.00" font-size="9.8" textLength="47.50" lengthAdjust="spacingAndGlyphs">No. at risk:</text>
<text x="268.00" y="754.50" font-size="10.4" textLength="20.73" lengthAdjust="spacingAndGlyphs">GCB</text>
<text x="326.90" y="754.10" font-size="9.5" text-anchor="middle" textLength="13.47" lengthAdjust="spacingAndGlyphs">279</text>
<text x="352.29" y="754.10" font-size="9.5" text-anchor="middle" textLength="13.47" lengthAdjust="spacingAndGlyphs">259</text>
<text x="377.68" y="754.10" font-size="9.5" text-anchor="middle" textLength="13.47" lengthAdjust="spacingAndGlyphs">248</text>
<text x="403.07" y="754.10" font-size="9.5" text-anchor="middle" textLength="13.47" lengthAdjust="spacingAndGlyphs">241</text>
<text x="428.46" y="754.10" font-size="9.5" text-anchor="middle" textLength="13.47" lengthAdjust="spacingAndGlyphs">233</text>
<text x="453.85" y="754.10" font-size="9.5" text-anchor="middle" textLength="13.47" lengthAdjust="spacingAndGlyphs">225</text>
<text x="479.24" y="754.10" font-size="9.5" text-anchor="middle" textLength="13.47" lengthAdjust="spacingAndGlyphs">213</text>
<text x="504.63" y="754.10" font-size="9.5" text-anchor="middle" textLength="13.47" lengthAdjust="spacingAndGlyphs">202</text>
<text x="268.00" y="768.00" font-size="10.4" textLength="20.73" lengthAdjust="spacingAndGlyphs">UNC</text>
<text x="326.90" y="767.60" font-size="9.5" text-anchor="middle" textLength="8.98" lengthAdjust="spacingAndGlyphs">67</text>
<text x="352.29" y="767.60" font-size="9.5" text-anchor="middle" textLength="8.98" lengthAdjust="spacingAndGlyphs">62</text>
<text x="377.68" y="767.60" font-size="9.5" text-anchor="middle" textLength="8.98" lengthAdjust="spacingAndGlyphs">50</text>
<text x="403.07" y="767.60" font-size="9.5" text-anchor="middle" textLength="8.98" lengthAdjust="spacingAndGlyphs">48</text>
<text x="428.46" y="767.60" font-size="9.5" text-anchor="middle" textLength="8.98" lengthAdjust="spacingAndGlyphs">46</text>
<text x="453.85" y="767.60" font-size="9.5" text-anchor="middle" textLength="8.98" lengthAdjust="spacingAndGlyphs">43</text>
<text x="479.24" y="767.60" font-size="9.5" text-anchor="middle" textLength="8.98" lengthAdjust="spacingAndGlyphs">42</text>
<text x="504.63" y="767.60" font-size="9.5" text-anchor="middle" textLength="8.98" lengthAdjust="spacingAndGlyphs">38</text>
<text x="268.00" y="781.20" font-size="10.4" textLength="19.67" lengthAdjust="spacingAndGlyphs">ABC</text>
<text x="326.90" y="780.80" font-size="9.5" text-anchor="middle" textLength="13.47" lengthAdjust="spacingAndGlyphs">213</text>
<text x="352.29" y="780.80" font-size="9.5" text-anchor="middle" textLength="13.47" lengthAdjust="spacingAndGlyphs">178</text>
<text x="377.68" y="780.80" font-size="9.5" text-anchor="middle" textLength="13.47" lengthAdjust="spacingAndGlyphs">152</text>
<text x="403.07" y="780.80" font-size="9.5" text-anchor="middle" textLength="13.47" lengthAdjust="spacingAndGlyphs">143</text>
<text x="428.46" y="780.80" font-size="9.5" text-anchor="middle" textLength="13.47" lengthAdjust="spacingAndGlyphs">136</text>
<text x="453.85" y="780.80" font-size="9.5" text-anchor="middle" textLength="13.47" lengthAdjust="spacingAndGlyphs">128</text>
<text x="479.24" y="780.80" font-size="9.5" text-anchor="middle" textLength="13.47" lengthAdjust="spacingAndGlyphs">121</text>
<text x="504.63" y="780.80" font-size="9.5" text-anchor="middle" textLength="12.87" lengthAdjust="spacingAndGlyphs">113</text>
<text x="0" y="0" font-size="10.4" transform="translate(268.00,795.00) scale(0.93,1)">DZsig<tspan font-size="7.2" dy="-3.6">pos</tspan></text>
<text x="326.90" y="794.60" font-size="9.5" text-anchor="middle" textLength="8.98" lengthAdjust="spacingAndGlyphs">70</text>
<text x="352.29" y="794.60" font-size="9.5" text-anchor="middle" textLength="8.98" lengthAdjust="spacingAndGlyphs">44</text>
<text x="377.68" y="794.60" font-size="9.5" text-anchor="middle" textLength="8.98" lengthAdjust="spacingAndGlyphs">41</text>
<text x="403.07" y="794.60" font-size="9.5" text-anchor="middle" textLength="8.98" lengthAdjust="spacingAndGlyphs">37</text>
<text x="428.46" y="794.60" font-size="9.5" text-anchor="middle" textLength="8.98" lengthAdjust="spacingAndGlyphs">37</text>
<text x="453.85" y="794.60" font-size="9.5" text-anchor="middle" textLength="8.98" lengthAdjust="spacingAndGlyphs">36</text>
<text x="479.24" y="794.60" font-size="9.5" text-anchor="middle" textLength="8.98" lengthAdjust="spacingAndGlyphs">34</text>
<text x="504.63" y="794.60" font-size="9.5" text-anchor="middle" textLength="8.98" lengthAdjust="spacingAndGlyphs">31</text>
</svg></body></html>
